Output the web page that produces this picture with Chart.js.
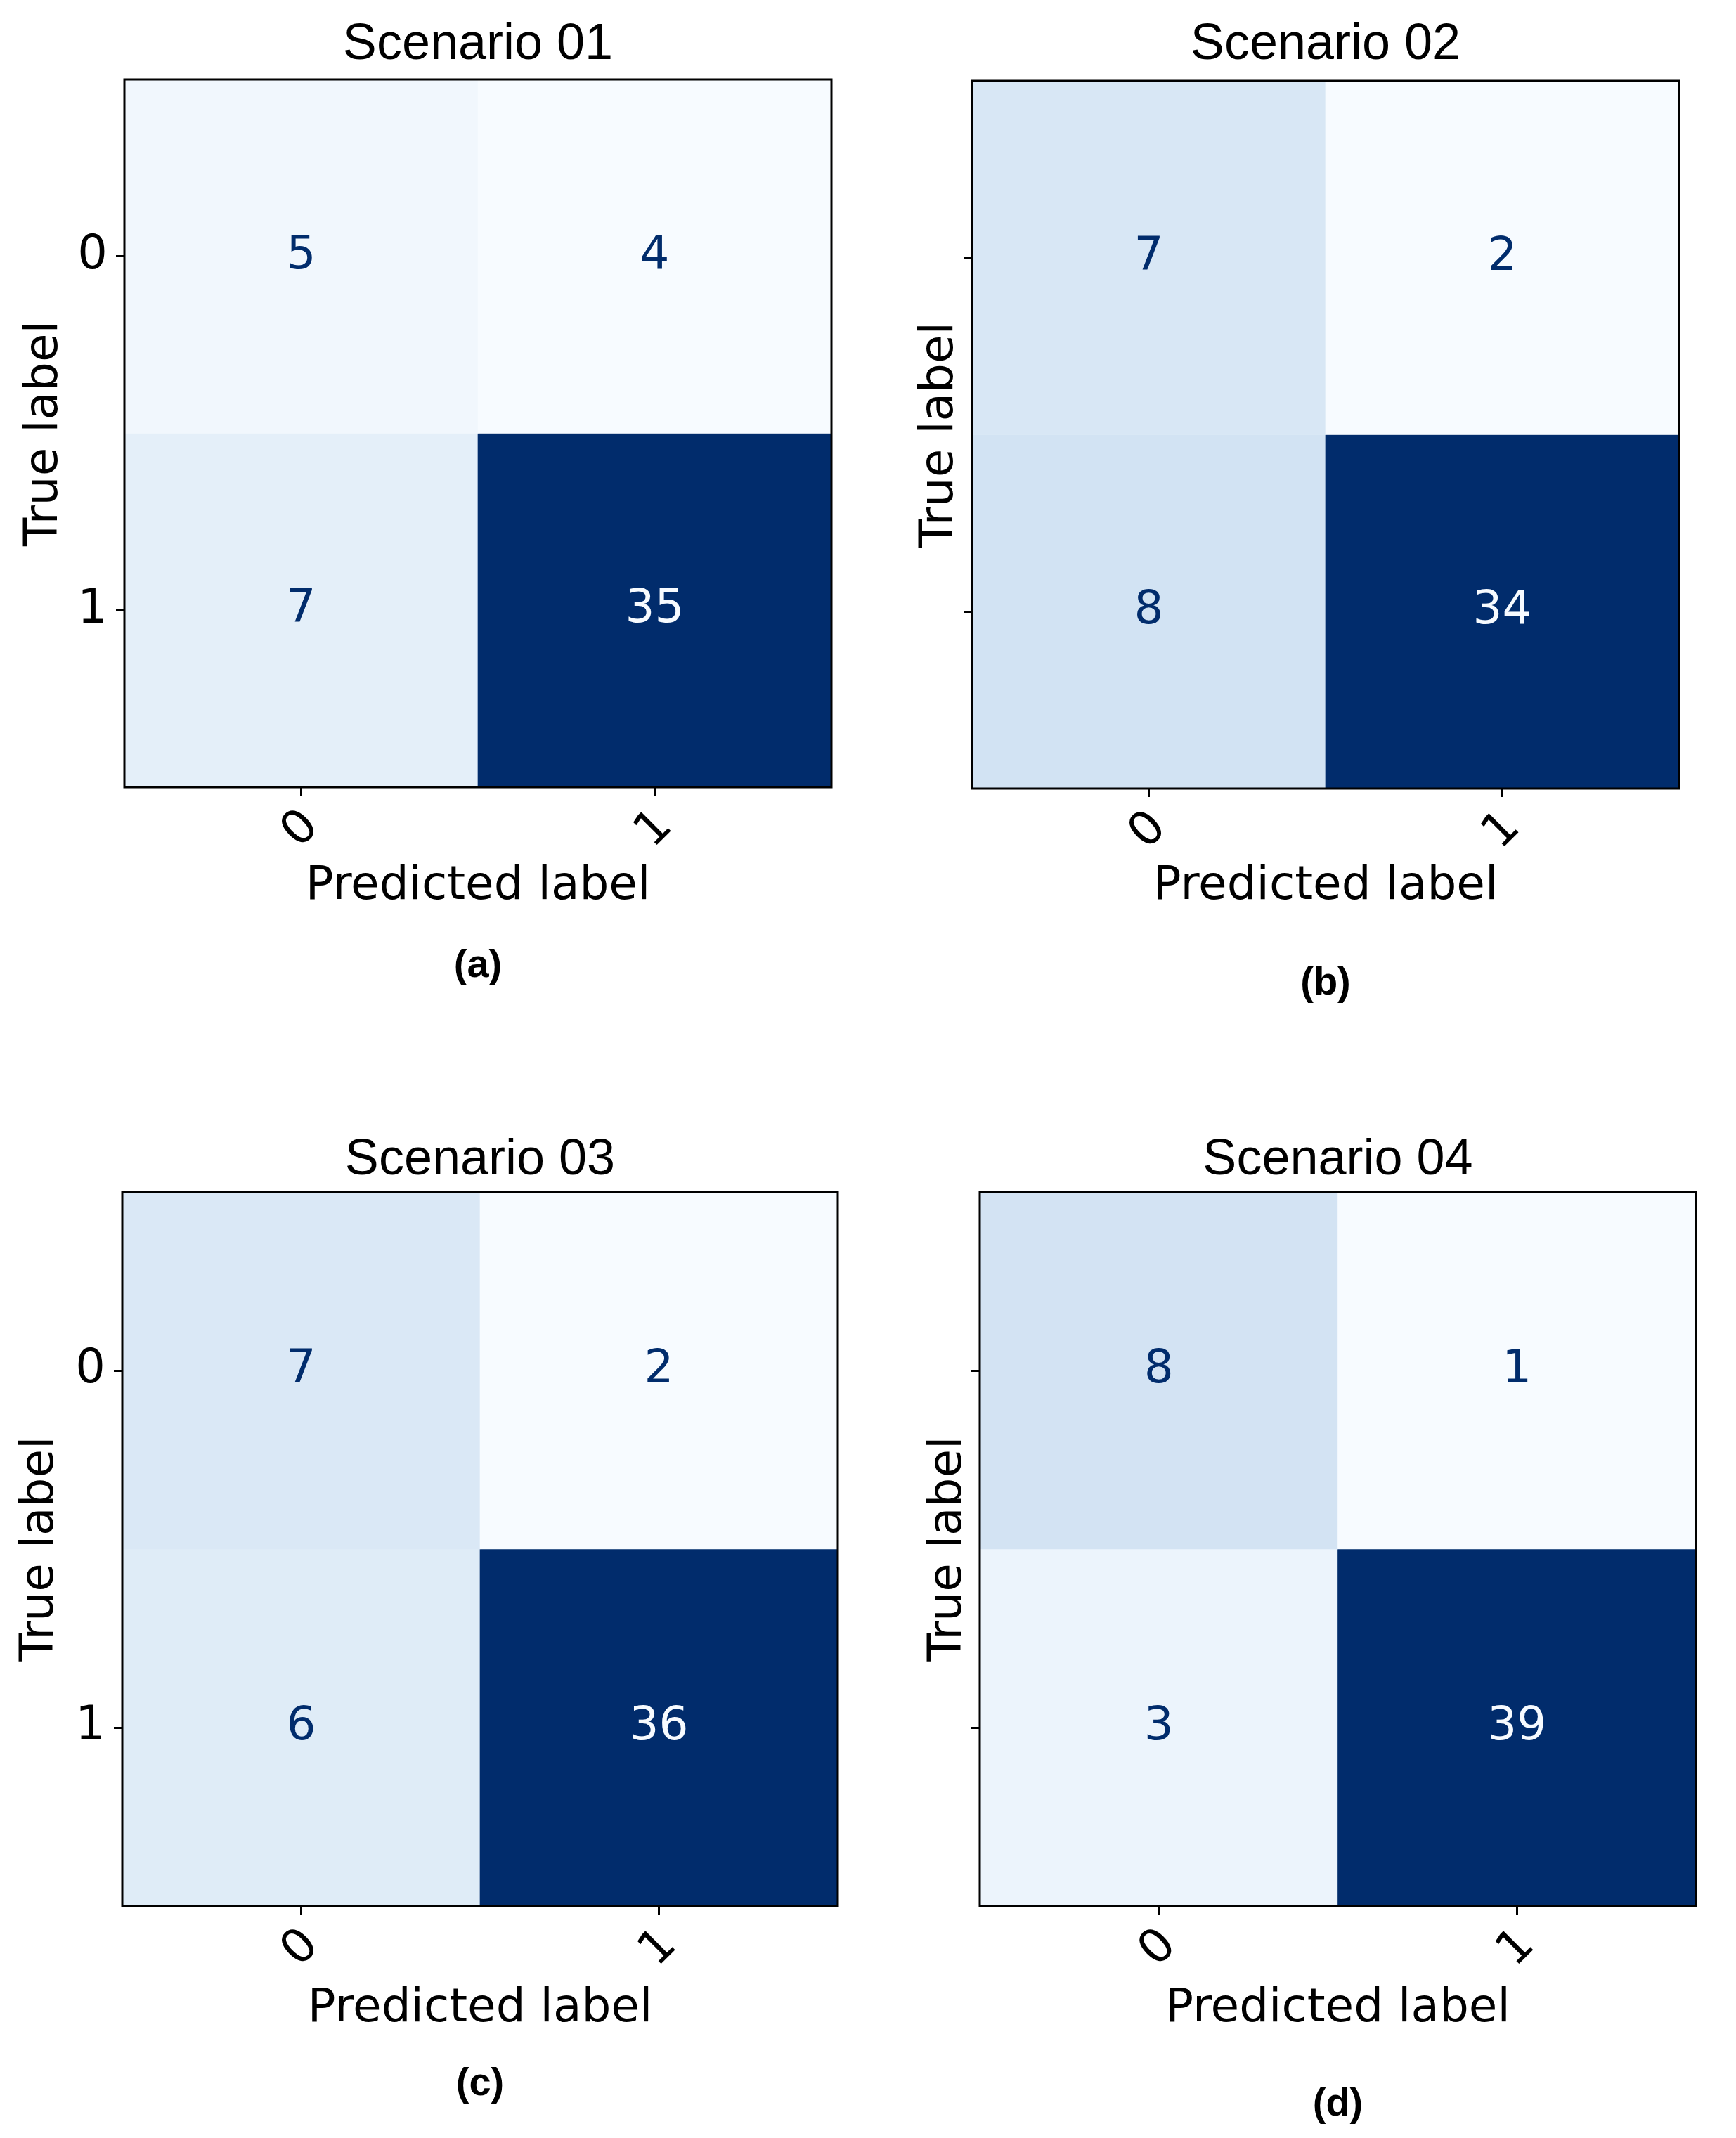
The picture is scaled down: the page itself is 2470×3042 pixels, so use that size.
<!DOCTYPE html>
<html>
<head>
<meta charset="utf-8">
<title>Confusion matrices</title>
<script src="https://cdn.jsdelivr.net/npm/chart.js@4.4.1/dist/chart.umd.min.js"></script>
<style>
  html, body { margin: 0; padding: 0; background: #fff; }
  body { width: 2470px; height: 3042px; position: relative; overflow: hidden; }
  canvas { position: absolute; }
</style>
</head>
<body>
<canvas id="cmA"></canvas>
<canvas id="cmB"></canvas>
<canvas id="cmC"></canvas>
<canvas id="cmD"></canvas>
<script>
// --- data ---
const classLabels = ['0', '1'];
const scenarioTitles = ['Scenario 01', 'Scenario 02', 'Scenario 03', 'Scenario 04'];
const captions = ['(a)', '(b)', '(c)', '(d)'];
const xAxisTitle = 'Predicted label';
const yAxisTitle = 'True label';

// rows = true label, columns = predicted label
const scenario01 = [[5, 4], [7, 35]];
const scenario02 = [[7, 2], [8, 34]];
const scenario03 = [[7, 2], [6, 36]];
const scenario04 = [[8, 1], [3, 39]];

// "Blues" colour stops (light -> dark)
const bluesStops = ['#f7fbff', '#deebf7', '#c6dbef', '#9ecae1', '#6baed6', '#4292c6', '#2171b5', '#08519c', '#012c6c'];

function hexToRgb(h) {
  return [parseInt(h.slice(1, 3), 16), parseInt(h.slice(3, 5), 16), parseInt(h.slice(5, 7), 16)];
}

function blues(t) {
  t = Math.min(1, Math.max(0, t));
  const pos = t * (bluesStops.length - 1);
  const i = Math.min(Math.floor(pos), bluesStops.length - 2);
  const f = pos - i;
  const a = hexToRgb(bluesStops[i]);
  const b = hexToRgb(bluesStops[i + 1]);
  const c = a.map((v, k) => Math.round(v + (b[k] - v) * f));
  return 'rgb(' + c.join(',') + ')';
}

// --- page layout of each panel (plot box L,T,R,B and text anchors) ---
const panels = [
  { id: 'cmA', matrix: scenario01, n: 0, box: [177, 113, 1183, 1120], titleY: 64, yLabelX: 64, xLabelY: 1262, capY: 1375, yTickLabels: true },
  { id: 'cmB', matrix: scenario02, n: 1, box: [1383, 115, 2389, 1122], titleY: 64, yLabelX: 1338, xLabelY: 1262, capY: 1400, yTickLabels: false },
  { id: 'cmC', matrix: scenario03, n: 2, box: [174, 1696, 1192, 2712], titleY: 1651, yLabelX: 58, xLabelY: 2859, capY: 2966, yTickLabels: true },
  { id: 'cmD', matrix: scenario04, n: 3, box: [1394, 1696, 2413, 2712], titleY: 1651, yLabelX: 1350, xLabelY: 2859, capY: 2995, yTickLabels: false }
];

const sansFont = 'DejaVu Sans';
const titleFont = 'Liberation Sans';
const labelSize = 66;
const tickSize = 67;
const cellSize = 66;
const titleSize = 72;
const capSize = 56;

Chart.defaults.font.family = sansFont;
Chart.defaults.color = '#000';

// values written in the middle of each cell
const cellText = {
  id: 'cellText',
  afterDatasetsDraw(chart, args, opts) {
    const { ctx, scales: { x, y } } = chart;
    const m = opts.matrix;
    const flat = m.flat();
    const vmin = Math.min(...flat), vmax = Math.max(...flat);
    const thresh = (vmin + vmax) / 2;
    ctx.save();
    ctx.font = cellSize + 'px "' + sansFont + '"';
    ctx.textAlign = 'center';
    ctx.textBaseline = 'middle';
    m.forEach((row, r) => {
      row.forEach((v, c) => {
        ctx.fillStyle = v < thresh ? blues(1) : blues(0);
        ctx.fillText(String(v), x.getPixelForValue(c), y.getPixelForValue(r));
      });
    });
    ctx.restore();
  }
};

// black frame around the plot area
const frame = {
  id: 'frame',
  afterDraw(chart) {
    const { ctx, chartArea: a } = chart;
    ctx.save();
    ctx.strokeStyle = '#000';
    ctx.lineWidth = 3;
    ctx.strokeRect(a.left, a.top, a.right - a.left, a.bottom - a.top);
    ctx.restore();
  }
};

function makePanel(p) {
  const [L, T, R, B] = p.box;
  const cx = L - 177;
  const cy = T - 113;
  const cw = R + 40 - cx;
  const ch = p.capY + 44 - cy;

  const canvas = document.getElementById(p.id);
  canvas.width = cw;
  canvas.height = ch;
  canvas.style.left = cx + 'px';
  canvas.style.top = cy + 'px';
  canvas.style.width = cw + 'px';
  canvas.style.height = ch + 'px';

  const m = p.matrix;
  const flat = m.flat();
  const vmin = Math.min(...flat), vmax = Math.max(...flat);

  const labelLH = labelSize * 1.2;
  const titleLH = titleSize * 1.2;
  const capLH = capSize * 1.2;
  const titleTop = (p.titleY - cy) - titleLH / 2;
  const xAxisH = p.xLabelY + labelLH / 2 - B;
  const capTop = p.capY - (B + xAxisH) - capLH / 2;
  const capBottom = (cy + ch) - p.capY - capLH / 2;

  const datasets = m.map((row, r) => ({
    data: row.map(() => [r - 0.5, r + 0.5]),
    backgroundColor: row.map(v => blues((v - vmin) / (vmax - vmin))),
    borderWidth: 0,
    barPercentage: 1,
    categoryPercentage: 1,
    grouped: false
  }));

  new Chart(canvas, {
    type: 'bar',
    data: { labels: classLabels, datasets: datasets },
    options: {
      responsive: false,
      animation: false,
      events: [],
      layout: { padding: { left: 0, top: 0, bottom: 0, right: cx + cw - R } },
      scales: {
        x: {
          type: 'category',
          offset: true,
          grid: { display: true, offset: false, drawOnChartArea: false, drawTicks: true, tickLength: 12, tickWidth: 3, tickColor: '#000' },
          border: { display: false },
          ticks: { font: { size: tickSize }, color: '#000', minRotation: 45, maxRotation: 45, padding: 5, labelOffset: 15 },
          title: { display: true, text: xAxisTitle, font: { size: labelSize }, color: '#000', padding: { top: 0, bottom: 0 } },
          afterFit: s => { s.height = xAxisH; }
        },
        y: {
          type: 'linear',
          min: -0.5,
          max: 1.5,
          reverse: true,
          afterBuildTicks: s => { s.ticks = classLabels.map((_, i) => ({ value: i })); },
          grid: { display: true, drawOnChartArea: false, drawTicks: true, tickLength: 12, tickWidth: 3, tickColor: '#000' },
          border: { display: false },
          ticks: { display: p.yTickLabels, font: { size: tickSize }, color: '#000', padding: 12, callback: v => classLabels[v] },
          title: { display: true, text: yAxisTitle, font: { size: labelSize }, color: '#000', padding: { top: (p.yLabelX - cx) - labelLH / 2, bottom: 0 } },
          afterFit: s => { s.width = L - cx; }
        }
      },
      plugins: {
        legend: { display: false },
        tooltip: { enabled: false },
        title: {
          display: true,
          text: scenarioTitles[p.n],
          fullSize: false,
          color: '#000',
          font: { family: titleFont, size: titleSize, weight: 'normal', lineHeight: 1.2 },
          padding: { top: titleTop, bottom: 113 - titleTop - titleLH }
        },
        subtitle: {
          display: true,
          text: captions[p.n],
          position: 'bottom',
          fullSize: false,
          color: '#000',
          font: { family: titleFont, size: capSize, weight: 'bold', lineHeight: 1.2 },
          padding: { top: capTop, bottom: capBottom }
        },
        cellText: { matrix: m }
      }
    },
    plugins: [cellText, frame]
  });
}

panels.forEach(makePanel);
</script>
</body>
</html>
